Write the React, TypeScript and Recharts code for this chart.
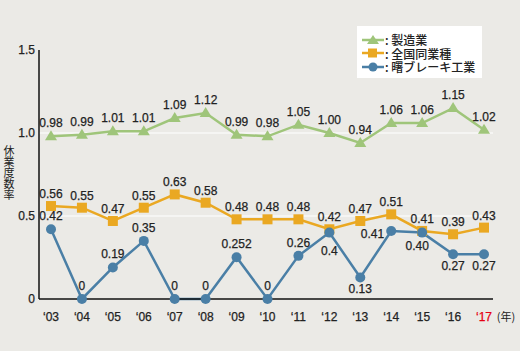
import { CartesianGrid, Line, LineChart, XAxis, YAxis } from "recharts"

const years = ["03", "04", "05", "06", "07", "08", "09", "10", "11", "12", "13", "14", "15", "16", "17"]
const seizo = [0.98, 0.99, 1.01, 1.01, 1.09, 1.12, 0.99, 0.98, 1.05, 1.0, 0.94, 1.06, 1.06, 1.15, 1.02]
const zenkoku = [0.56, 0.55, 0.47, 0.55, 0.63, 0.58, 0.48, 0.48, 0.48, 0.42, 0.47, 0.51, 0.41, 0.39, 0.43]
const akebono = [0.42, 0, 0.19, 0.35, 0, 0, 0.252, 0, 0.26, 0.4, 0.13, 0.41, 0.4, 0.27, 0.27]
const seizoLabels = ["0.98", "0.99", "1.01", "1.01", "1.09", "1.12", "0.99", "0.98", "1.05", "1.00", "0.94", "1.06", "1.06", "1.15", "1.02"]
const zenkokuLabels = ["0.56", "0.55", "0.47", "0.55", "0.63", "0.58", "0.48", "0.48", "0.48", "0.42", "0.47", "0.51", "0.41", "0.39", "0.43"]
const akebonoLabels = ["0.42", "0", "0.19", "0.35", "0", "0", "0.252", "0", "0.26", "0.4", "0.13", "0.41", "0.40", "0.27", "0.27"]
const yTicks = [0, 0.5, 1, 1.5]
const yTitle = "休業度数率"

const GREEN = "#9fc57a"
const ORANGE = "#eaa822"
const BLUE = "#4a7fa6"
const NUM_FONT = "'Liberation Sans', Arial, sans-serif"
const JP_FONT = "'Noto Sans CJK JP', sans-serif"

const legendItems = [
  { name: "製造業", color: GREEN, shape: "triangle" },
  { name: "全国同業種", color: ORANGE, shape: "square" },
  { name: "曙ブレーキ工業", color: BLUE, shape: "circle" },
]

const data = years.map((y, i) => ({
  year: y,
  seizo: seizo[i],
  zenkoku: zenkoku[i],
  akebono: akebono[i],
}))

// blue labels move around to avoid the other lines
const blueOffset: Record<number, [number, number, string]> = {
  9: [0, 22, "middle"],
  10: [0, 16, "middle"],
  11: [-7, 7, "end"],
  12: [-5, 17, "middle"],
  13: [0, 16, "middle"],
  14: [0, 16, "middle"],
}

const Triangle = (props: any) => {
  const { cx, cy } = props
  if (cx == null || cy == null) return null
  return <polygon points={`${cx},${cy - 6} ${cx - 6},${cy + 4} ${cx + 6},${cy + 4}`} fill={GREEN} />
}

const Square = (props: any) => {
  const { cx, cy } = props
  if (cx == null || cy == null) return null
  return <rect x={cx - 5} y={cy - 5} width={10} height={10} fill={ORANGE} />
}

const Circle = (props: any) => {
  const { cx, cy } = props
  if (cx == null || cy == null) return null
  return <circle cx={cx} cy={cy} r={5} fill={BLUE} />
}

const makeLabel = (labels: string[], dy: number, custom?: Record<number, [number, number, string]>) => (p: any) => {
  const { x, y, index } = p
  const c = custom && custom[index]
  const dx = c ? c[0] : 0
  const off = c ? c[1] : dy
  const anchor = c ? c[2] : "middle"
  return (
    <text key={index} x={x + dx} y={y + off} textAnchor={anchor as any} fontSize={12} fontFamily={NUM_FONT}
      fill="#222" stroke="#222" strokeWidth={0.25}>
      {labels[index]}
    </text>
  )
}

const XTick = (props: any) => {
  const { x, y, payload, index } = props
  const last = index === years.length - 1
  return (
    <g>
      <text x={x} y={y + 14} textAnchor="middle" fontSize={12} fontFamily={NUM_FONT}
        fill={last ? "#e60012" : "#222"} stroke={last ? "#e60012" : "#222"} strokeWidth={0.25}>
        {"‘" + payload.value}
      </text>
      {last && (
        <text x={x + 22} y={y + 14} textAnchor="middle" fontSize={11} fontFamily={JP_FONT} fill="#222">
          (年)
        </text>
      )}
    </g>
  )
}

const YTitle = () => (
  <text x={9} y={145} fontSize={11} fontFamily={JP_FONT} fill="#222" style={{ writingMode: "vertical-rl" }}>
    {yTitle}
  </text>
)

const LegendBox = () => (
  <div style={{ position: "absolute", left: 357, top: 26, background: "#fff", width: 125, height: 52, boxSizing: "border-box", padding: "7px 0 0 5px" }}>
    {legendItems.map((it) => (
      <div key={it.name} style={{ display: "flex", alignItems: "center", height: 13.5, fontSize: 12, lineHeight: "13px", fontFamily: JP_FONT, color: "#222" }}>
        <svg width={22} height={12}>
          <line x1={0} y1={6} x2={22} y2={6} stroke={it.color} strokeWidth={2.5} />
          {it.shape === "triangle" && <polygon points="11,1 5,10 17,10" fill={it.color} />}
          {it.shape === "square" && <rect x={6} y={1.5} width={9} height={9} fill={it.color} />}
          {it.shape === "circle" && <circle cx={11} cy={6} r={4.5} fill={it.color} />}
        </svg>
        <span style={{ marginLeft: 1, fontWeight: 500, whiteSpace: "pre" }}>{": " + it.name}</span>
      </div>
    ))}
  </div>
)

export default function App() {
  return (
    <div style={{ width: 520, height: 351, background: "#ebeae6", position: "relative" }}>
      <style>{"body{margin:0}"}</style>
      <LineChart width={520} height={351} data={data} margin={{ top: 50, right: 27, left: 0, bottom: 0 }}>
        <CartesianGrid vertical={false} horizontalValues={[0.5, 1]} stroke="#fff" strokeWidth={1.2} />
        <XAxis
          dataKey="year"
          height={52}
          axisLine={{ stroke: "#111", strokeWidth: 1.5 }}
          tickLine={false}
          tick={<XTick />}
          interval={0}
          padding={{ left: 12, right: 9 }}
        />
        <YAxis
          width={39}
          domain={[0, 1.5]}
          ticks={yTicks}
          axisLine={{ stroke: "#111", strokeWidth: 1.5 }}
          tickLine={false}
          tickSize={2}
          tickMargin={2}
          tick={{ fontSize: 12, fontFamily: NUM_FONT, fill: "#222", stroke: "#222", strokeWidth: 0.25 }}
          tickFormatter={(v: number) => (v === 0 ? "0" : v.toFixed(1))}
          label={<YTitle />}
        />
        <Line dataKey="seizo" stroke={GREEN} strokeWidth={2.5} dot={<Triangle />} label={makeLabel(seizoLabels, -9)} isAnimationActive={false} />
        <Line dataKey="zenkoku" stroke={ORANGE} strokeWidth={2.5} dot={<Square />} label={makeLabel(zenkokuLabels, -8)} isAnimationActive={false} />
        <Line dataKey="akebono" stroke={BLUE} strokeWidth={2.5} dot={<Circle />} label={makeLabel(akebonoLabels, -9, blueOffset)} isAnimationActive={false} />
      </LineChart>
      <LegendBox />
    </div>
  )
}
